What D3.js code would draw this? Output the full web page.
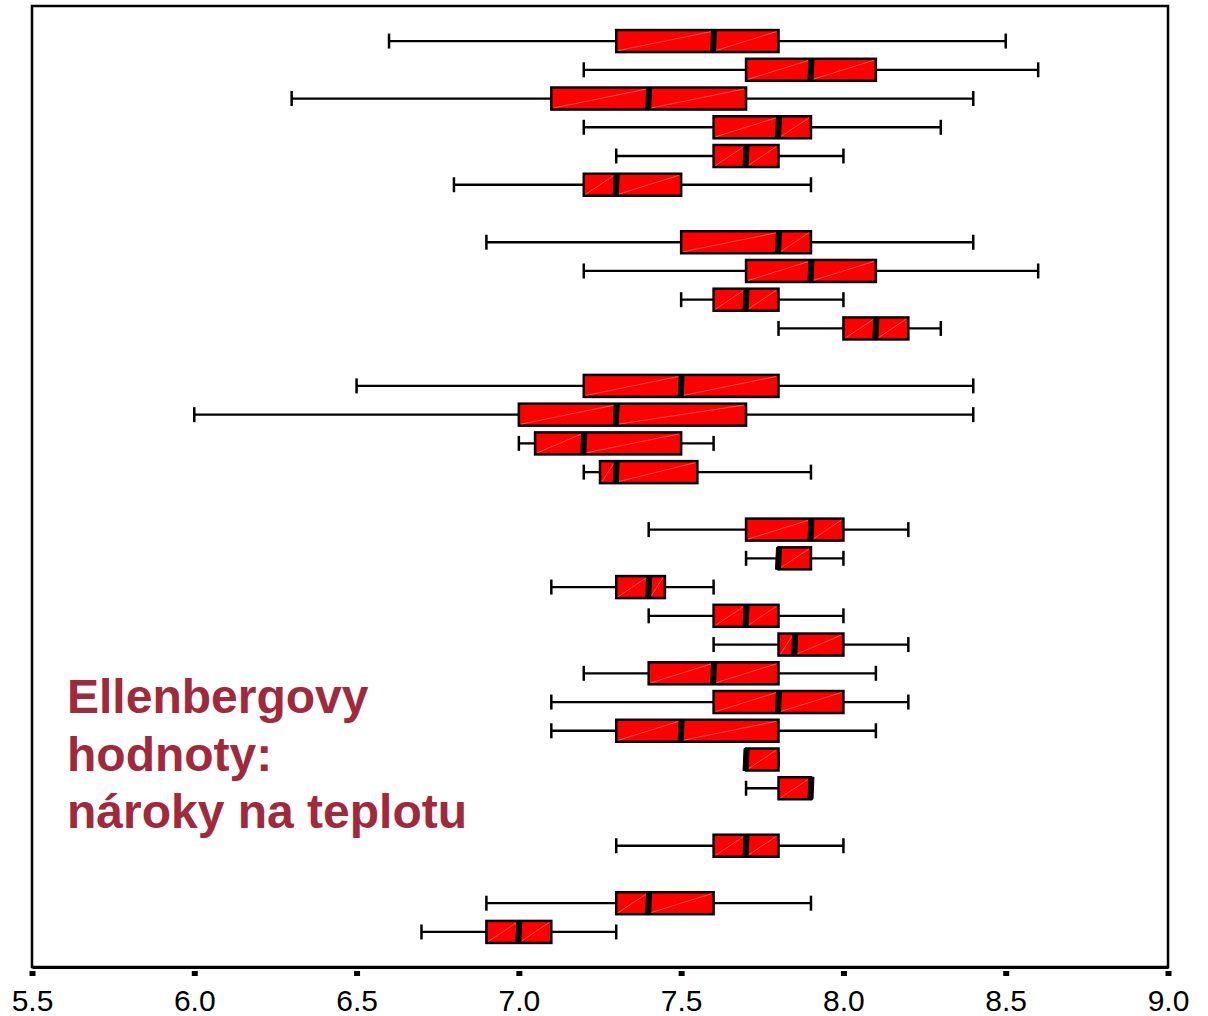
<!DOCTYPE html>
<html>
<head>
<meta charset="utf-8">
<script src="https://cdn.jsdelivr.net/npm/d3@7"></script>
<style>
  body { margin: 0; background: #fff; }
  svg { display: block; font-family: Arial, "Liberation Sans", sans-serif; }
</style>
</head>
<body>
<svg id="chart" width="1208" height="1016"></svg>
<script>
// row slots (top to bottom, gaps separate the groups)
const slots = [0, 1, 2, 3, 4, 5, 7, 8, 9, 10, 12, 13, 14, 15, 17, 18, 19, 20, 21, 22, 23, 24, 25, 26, 28, 30, 31];
const whiskerLo = [6.6, 7.2, 6.3, 7.2, 7.3, 6.8, 6.9, 7.2, 7.5, 7.8, 6.5, 6.0, 7.0, 7.2, 7.4, 7.7, 7.1, 7.4, 7.6, 7.2, 7.1, 7.1, 7.7, 7.7, 7.3, 6.9, 6.7];
const q1 =        [7.3, 7.7, 7.1, 7.6, 7.6, 7.2, 7.5, 7.7, 7.6, 8.0, 7.2, 7.0, 7.05, 7.25, 7.7, 7.8, 7.3, 7.6, 7.8, 7.4, 7.6, 7.3, 7.7, 7.8, 7.6, 7.3, 6.9];
const median =    [7.6, 7.9, 7.4, 7.8, 7.7, 7.3, 7.8, 7.9, 7.7, 8.1, 7.5, 7.3, 7.2, 7.3, 7.9, 7.8, 7.4, 7.7, 7.85, 7.6, 7.8, 7.5, 7.7, 7.9, 7.7, 7.4, 7.0];
const q3 =        [7.8, 8.1, 7.7, 7.9, 7.8, 7.5, 7.9, 8.1, 7.8, 8.2, 7.8, 7.7, 7.5, 7.55, 8.0, 7.9, 7.45, 7.8, 8.0, 7.8, 8.0, 7.8, 7.8, 7.9, 7.8, 7.6, 7.1];
const whiskerHi = [8.5, 8.6, 8.4, 8.3, 8.0, 7.9, 8.4, 8.6, 8.0, 8.3, 8.4, 8.4, 7.6, 7.9, 8.2, 8.0, 7.6, 8.0, 8.2, 8.1, 8.2, 8.1, 7.8, 7.9, 8.0, 7.9, 7.3];
const xTicks = [5.5, 6.0, 6.5, 7.0, 7.5, 8.0, 8.5, 9.0];
const titleLines = ["Ellenbergovy", "hodnoty:", "nároky na teplotu"];

const svg = d3.select("#chart");
const plotLeft = 32, plotRight = 1168, plotTop = 6, plotBottom = 967;
const boxH = 22, capH = 15;
const fill = "#ff0000";

const x = d3.scaleLinear().domain([5.5, 9.0]).range([plotLeft, plotRight]);
const y = d3.scalePoint().domain(d3.range(32)).range([plotTop, plotBottom]).padding(1.22);

const rows = slots.map((s, i) => ({
  slot: s, lo: whiskerLo[i], q1: q1[i], med: median[i], q3: q3[i], hi: whiskerHi[i]
}));

const g = svg.append("g");

rows.forEach(function(d) {
  const cy = y(d.slot);
  const row = g.append("g");
  // whiskers
  row.append("line")
    .attr("x1", x(d.lo)).attr("x2", x(d.q1))
    .attr("y1", cy).attr("y2", cy)
    .attr("stroke", "black").attr("stroke-width", 2.3);
  row.append("line")
    .attr("x1", x(d.q3)).attr("x2", x(d.hi))
    .attr("y1", cy).attr("y2", cy)
    .attr("stroke", "black").attr("stroke-width", 2.3);
  [d.lo, d.hi].forEach(function(v) {
    row.append("line")
      .attr("x1", x(v)).attr("x2", x(v))
      .attr("y1", cy - capH / 2).attr("y2", cy + capH / 2)
      .attr("stroke", "black").attr("stroke-width", 2.5);
  });
  // box
  row.append("rect")
    .attr("x", x(d.q1)).attr("y", cy - boxH / 2)
    .attr("width", x(d.q3) - x(d.q1)).attr("height", boxH)
    .attr("fill", fill)
    .attr("stroke", "black").attr("stroke-width", 2.5);
  // faint diagonals in each half of the box
  [[d.q1, d.med], [d.med, d.q3]].forEach(function(p) {
    if (x(p[1]) - x(p[0]) < 3) return;
    row.append("line")
      .attr("x1", x(p[0]) + 2).attr("y1", cy + boxH / 2 - 1.5)
      .attr("x2", x(p[1]) - 2).attr("y2", cy - boxH / 2 + 1.5)
      .attr("stroke", "#ff6a6a").attr("stroke-width", 0.8);
  });
  // median bar, slightly slanted
  const m = x(d.med);
  const y0 = cy - boxH / 2, y1 = cy + boxH / 2;
  row.append("path")
    .attr("d", `M${m - 2},${y0}L${m + 3},${y0}L${m + 2},${y1}L${m - 3},${y1}Z`)
    .attr("fill", "black")
    .attr("stroke", "black").attr("stroke-width", 1);
});

// frame
svg.append("rect")
  .attr("x", plotLeft).attr("y", plotTop)
  .attr("width", plotRight - plotLeft).attr("height", plotBottom - plotTop)
  .attr("fill", "none")
  .attr("stroke", "black").attr("stroke-width", 2.5);

// x axis
const axis = svg.append("g")
  .attr("transform", `translate(0,${plotBottom})`)
  .call(d3.axisBottom(x).tickValues(xTicks).tickFormat(d3.format(".1f")).tickSize(0));
axis.select(".domain").attr("stroke", "black").attr("stroke-width", 3);
axis.selectAll(".tick line")
  .attr("y1", 4).attr("y2", 9)
  .attr("stroke", "black").attr("stroke-width", 6);
axis.selectAll(".tick text")
  .attr("y", 44).attr("dy", 0)
  .attr("fill", "black")
  .style("font-size", "30px")
  .style("font-family", "Arial, 'Liberation Sans', sans-serif");

// annotation
svg.append("text")
  .attr("x", 67).attr("y", 713)
  .attr("fill", "#a0293b")
  .style("font-size", "48px")
  .style("font-weight", "bold")
  .selectAll("tspan")
  .data(titleLines)
  .join("tspan")
  .attr("x", 67)
  .attr("dy", (d, i) => i === 0 ? 0 : 57.5)
  .text(d => d);
</script>
</body>
</html>
